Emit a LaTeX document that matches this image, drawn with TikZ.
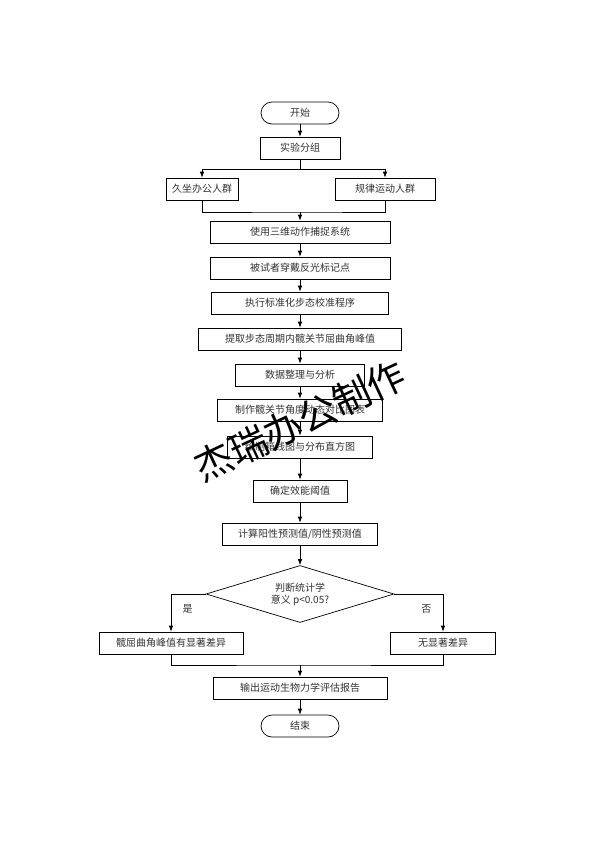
\documentclass[tikz,border=0pt]{standalone}
\usepackage{fontspec}
\newfontfamily\cjk{Noto Sans CJK SC}
\usepackage{tikz}
\usetikzlibrary{positioning}
\usetikzlibrary{shapes}
\usetikzlibrary{arrows.meta}

\begin{document}
\begin{tikzpicture}[x=1pt, y=-1pt, font=\cjk\fontsize{10}{12}\selectfont, text=black!80,
    >={Latex[length=6pt,width=4.5pt]}, line width=0.7pt,
    term/.style = {draw, rectangle, rounded corners=11pt, minimum width=78pt, minimum height=22pt, inner sep=0pt},
    proc/.style = {draw, rectangle, minimum height=22pt, inner sep=0pt},
    decide/.style = {draw, diamond, aspect=3.3, minimum width=188pt, minimum height=57pt, inner sep=0pt, align=center},
    lab/.style = {font=\cjk\fontsize{10}{12}\selectfont}]

\useasboundingbox[fill=white] (0,0) rectangle (594,841);

\node[term] (start) at (300,113) {开始};
\node[proc, minimum width=80pt] (group) at (300,148) {实验分组};
\node[proc, minimum width=72pt] (sit) at (202,189) {久坐办公人群};
\node[proc, minimum width=100pt] (reg) at (385,189) {规律运动人群};

\node[proc, minimum width=180pt] (mocap) at (300,232) {使用三维动作捕捉系统};
\node[proc, minimum width=180pt] (marker) at (300,268) {被试者穿戴反光标记点};
\node[proc, minimum width=177pt] (calib) at (300,303) {执行标准化步态校准程序};
\node[proc, minimum width=203pt] (peak) at (300,339) {提取步态周期内髋关节屈曲角峰值};
\node[proc, minimum width=129pt] (data) at (300,375) {数据整理与分析};
\node[proc, minimum width=165pt] (chart) at (300,410) {制作髋关节角度动态对比图表};
\node[proc, minimum width=145pt] (hist) at (300,447) {绘制箱线图与分布直方图};
\node[proc, minimum width=94pt] (thres) at (300,491) {确定效能阈值};
\node[proc, minimum width=155pt] (pred) at (300,534) {计算阳性预测值/阴性预测值};

\node[decide] (dec) at (300,594) {判断统计学\\意义 p<0.05?};

\node[proc, minimum width=144pt] (yes) at (171,643) {髋屈曲角峰值有显著差异};
\node[proc, minimum width=105pt] (no) at (443,643) {无显著差异};
\node[proc, minimum width=174pt] (report) at (300,688) {输出运动生物力学评估报告};
\node[term] (end) at (300,726) {结束};

\coordinate (m1) at (300,212);
\coordinate (m2) at (300,665);

\draw[->] (start) -- (group);
\draw[->] (group.south) -- ++(0,10) -| (sit);
\draw[->] (group.south) -- ++(0,10) -| (reg);
\draw (sit.south) |- (m1) -| (reg.south);
\draw[->] (m1) -- (mocap);

\draw[->] (mocap) -- (marker);
\draw[->] (marker) -- (calib);
\draw[->] (calib) -- (peak);
\draw[->] (peak) -- (data);
\draw[->] (data) -- (chart);
\draw[->] (chart) -- (hist);
\draw[->] (hist) -- (thres);
\draw[->] (thres) -- (pred);
\draw[->] (pred) -- (dec);

\draw[->] (dec.west) -| node[lab, pos=0.7, right=8pt] {是} (yes);
\draw[->] (dec.east) -| node[lab, pos=0.7, left=8pt] {否} (no);
\draw (yes.south) |- (m2) -| (no.south);
\draw[->] (m2) -- (report);
\draw[->] (report) -- (end);

% watermark
\node[rotate=25, text=black, font=\cjk\fontsize{38}{38}\selectfont] (mark) at (300,421) {杰瑞办公制作};

\end{tikzpicture}
\end{document}
